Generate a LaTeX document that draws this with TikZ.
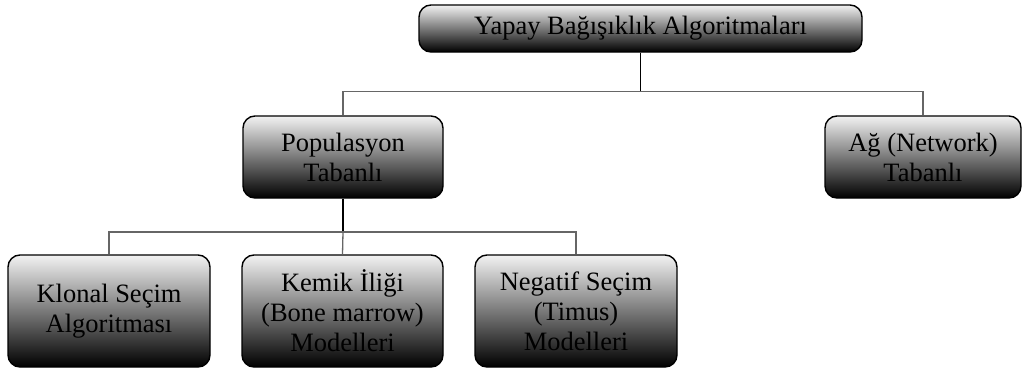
\documentclass[tikz,border=0pt]{standalone}
\usepackage{fontspec}
\setmainfont{Liberation Serif}
\begin{document}
\begin{tikzpicture}[x=1pt,y=-1pt,
  box/.style={draw=black, line width=1.4pt, rounded corners=12pt,
    shading=axis, top color=black!5, middle color=black!24, bottom color=black,
    align=center, inner sep=0pt, text=black,
    font=\fontsize{26.5}{30}\selectfont},
  stem/.style={draw=black, line width=1.1pt},
  bus/.style={draw=black!60, line width=1.3pt}]
\useasboundingbox (0,0) rectangle (1022,372);

% tree of nodes
\node[box, minimum width=443pt, minimum height=47pt] (root) at (640.5,28.5) {Yapay Bağışıklık Algoritmaları};
\node[box, minimum width=200pt, minimum height=82pt] (pop) at (343,157) {Populasyon\\Tabanlı};
\node[box, minimum width=196pt, minimum height=82pt] (ag) at (923,157) {Ağ (Network)\\Tabanlı};
\node[box, minimum width=202pt, minimum height=112pt] (klon) at (109,311) {Klonal Seçim\\Algoritması};
\node[box, minimum width=201pt, minimum height=112pt] (kemik) at (342.5,311) {Kemik İliği\\(Bone marrow)\\Modelleri};
\node[box, minimum width=202pt, minimum height=112pt] (neg) at (576,311) {Negatif Seçim\\(Timus)\\Modelleri};

% junction points of the connector buses
\coordinate (j1) at (640.5,91.5);
\coordinate (j2) at (343,232);

% first level
\draw[stem] (root.south) -- (j1);
\draw[bus] (pop.north) |- (j1);
\draw[bus] (ag.north) |- (j1);

% second level
\draw[stem] (pop.south) -- (j2);
\draw[bus] (klon.north) |- (j2);
\draw[bus] (kemik.north) -- (j2);
\draw[bus] (neg.north) |- (j2);
\end{tikzpicture}
\end{document}
